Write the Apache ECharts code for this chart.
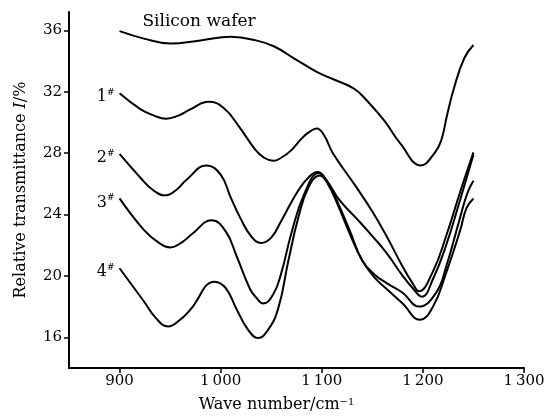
<!DOCTYPE html>
<html>
<head>
<meta charset="utf-8">
<script src="https://cdn.jsdelivr.net/npm/echarts@6/dist/echarts.min.js"></script>
<style>
  html, body { margin: 0; padding: 0; background: #fff; }
  #chart { width: 548px; height: 419px; }
</style>
</head>
<body>
<div id="chart"></div>
<script>
// tick values
var xTicks = [900, 1000, 1100, 1200, 1300];
var yTicks = [16, 20, 24, 28, 32, 36];

// curves: [wave number, transmittance]
var wafer = [[900,35.95],[925,35.45],[950,35.15],[980,35.35],[1010,35.58],[1035,35.35],[1053,34.95],[1072,34.2],[1095,33.3],[1112,32.8],[1132,32.2],[1145,31.4],[1162,30.1],[1178,28.6],[1198,27.2],[1211,27.95],[1218,28.8],[1224,30.5],[1231,32.3],[1241,34.2],[1250,35.05]];
var s1 = [[900,31.9],[921,30.85],[934,30.45],[946,30.25],[958,30.45],[970,30.85],[988,31.35],[1003,30.95],[1018,29.75],[1034,28.25],[1043,27.7],[1052,27.5],[1061,27.75],[1070,28.2],[1080,28.95],[1088,29.4],[1095,29.6],[1102,29.2],[1111,28.0],[1134,25.8],[1150,24.2],[1164,22.6],[1180,20.6],[1190,19.5],[1196,19.0],[1210,20.3],[1223,22.6],[1237,25.5],[1250,28.05]];
var s2 = [[900,27.95],[920,26.45],[933,25.6],[945,25.25],[956,25.6],[966,26.25],[986,27.2],[1000,26.6],[1010,25.1],[1020,23.7],[1030,22.6],[1040,22.15],[1050,22.5],[1060,23.6],[1077,25.6],[1088,26.5],[1096,26.77],[1105,26.2],[1118,24.9],[1135,23.7],[1150,22.6],[1164,21.5],[1180,20.0],[1190,19.2],[1199,18.65],[1210,19.8],[1223,22.0],[1237,25.0],[1250,27.9]];
var s3 = [[900,25.05],[924,23.0],[938,22.2],[950,21.86],[962,22.2],[972,22.75],[991,23.63],[1005,22.9],[1016,21.25],[1029,19.15],[1035,18.6],[1042,18.2],[1052,18.8],[1060,20.2],[1070,22.8],[1083,25.4],[1097,26.7],[1105,26.2],[1115,24.9],[1128,22.9],[1140,21.0],[1152,20.1],[1165,19.5],[1180,18.9],[1196,18.0],[1213,18.9],[1223,20.6],[1237,23.85],[1244,25.4],[1250,26.2]];
var s4 = [[900,20.5],[924,18.35],[936,17.25],[948,16.7],[960,17.15],[970,17.8],[994,19.62],[1005,19.2],[1016,17.8],[1027,16.5],[1037,15.95],[1047,16.5],[1057,17.9],[1067,21.0],[1077,23.85],[1087,25.8],[1098,26.55],[1106,26.0],[1116,24.6],[1128,22.7],[1140,21.0],[1152,19.9],[1165,19.1],[1180,18.2],[1197,17.14],[1210,18.0],[1223,20.2],[1237,23.0],[1243,24.4],[1250,25.05]];

var curves = [s1, s2, s3, s4];
var tags = ['1', '2', '3', '4'];
var font = 'DejaVu Serif';

var chart = echarts.init(document.getElementById('chart'));

function fmtNum(v) {
  var s = String(v);
  return s.length > 3 ? s.slice(0, s.length - 3) + '\u2009' + s.slice(-3) : s;
}

var series = [wafer, s1, s2, s3, s4].map(function (d) {
  return {
    type: 'line',
    data: d,
    smooth: 0.45,
    showSymbol: false,
    lineStyle: { color: '#000', width: 2 },
    silent: true
  };
});

var option = {
  animation: false,
  grid: { left: 69, right: 24, top: 12, bottom: 51 },
  xAxis: {
    type: 'value',
    min: 850,
    max: 1300,
    name: 'Wave number/cm{sup|\u22121}',
    nameLocation: 'middle',
    nameGap: 29,
    nameTextStyle: {
      fontFamily: font, fontSize: 16, color: '#000', padding: [0, 40, 0, 0],
      rich: { sup: { fontFamily: font, fontSize: 10, verticalAlign: 'top', color: '#000' } }
    },
    axisLine: { lineStyle: { color: '#000', width: 2 } },
    axisTick: { show: true, length: 5, lineStyle: { color: '#000', width: 1.5 }, customValues: xTicks },
    axisLabel: { fontFamily: font, fontSize: 15, color: '#000', margin: 6, customValues: xTicks, formatter: fmtNum },
    splitLine: { show: false }
  },
  yAxis: {
    type: 'value',
    min: 14,
    max: 37.2,
    name: 'Relative transmittance {it|I}/%',
    nameLocation: 'middle',
    nameGap: 40,
    nameTextStyle: {
      fontFamily: font, fontSize: 16, color: '#000',
      rich: { it: { fontFamily: font, fontSize: 16, fontStyle: 'italic', color: '#000' } }
    },
    axisLine: { show: true, lineStyle: { color: '#000', width: 2 } },
    axisTick: { show: true, length: 5, lineStyle: { color: '#000', width: 1.5 }, customValues: yTicks },
    axisLabel: { fontFamily: font, fontSize: 15, color: '#000', margin: 7, customValues: yTicks },
    splitLine: { show: false }
  },
  series: series
};

chart.setOption(option);

// curve tags placed next to the first point of each curve
var graphics = curves.map(function (d, i) {
  var p = chart.convertToPixel({ gridIndex: 0 }, d[0]);
  return {
    type: 'text',
    x: p[0] - 5,
    y: p[1] + 4,
    style: {
      text: '{n|' + tags[i] + '}{s|#}',
      align: 'right',
      verticalAlign: 'middle',
      rich: {
        n: { fontFamily: font, fontSize: 16, fill: '#000', lineHeight: 18 },
        s: { fontFamily: font, fontSize: 9, fill: '#000', verticalAlign: 'top', lineHeight: 18 }
      }
    }
  };
});
graphics.push({
  type: 'text',
  x: 199,
  y: 22,
  style: {
    text: 'Silicon wafer',
    fontFamily: font, fontSize: 17, fill: '#000',
    align: 'center', verticalAlign: 'middle'
  }
});
chart.setOption({ graphic: graphics });
</script>
</body>
</html>
